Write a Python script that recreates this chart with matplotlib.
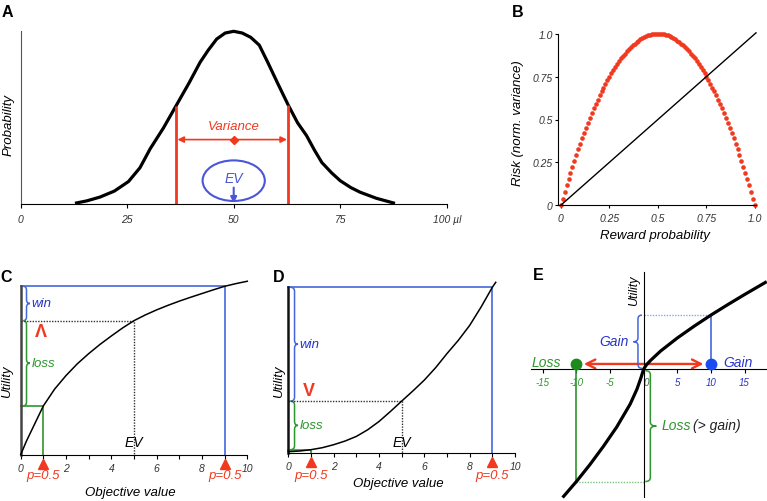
import numpy as np
import matplotlib.pyplot as plt
from matplotlib.patches import Ellipse, FancyArrowPatch, PathPatch
from matplotlib.path import Path
import matplotlib.transforms as mtrans

W, H = 767, 502

# --- panel A: reward distribution ---
dist_x = [13.1, 15.5, 18.6, 22, 25.3, 28, 30.4, 33.5, 36.5, 39.5, 42.1, 44, 46, 48, 50,
          52, 54, 56, 58, 60.3, 62.8, 65, 67.1, 69, 70.7, 73, 75, 77.5, 79.7, 83.5, 87.5]
dist_y = [0.006, 0.018, 0.04, 0.075, 0.13, 0.21, 0.32, 0.44, 0.57, 0.70, 0.82, 0.89, 0.955, 0.99, 1.0,
          0.99, 0.965, 0.92, 0.82, 0.70, 0.573, 0.47, 0.396, 0.31, 0.24, 0.18, 0.135, 0.095, 0.068, 0.033, 0.006]
a_ticks = [0, 25, 50, 75, 100]
a_ticklabels = ['0', '25', '50', '75', '100 µl']
var_lo, var_hi = 36.5, 62.8
ev_a = 50

# --- panel B: risk vs reward probability ---
reward_prob = [0.00, 0.01, 0.02, 0.03, 0.04, 0.05, 0.06, 0.07, 0.08, 0.09,
               0.10, 0.11, 0.12, 0.13, 0.14, 0.15, 0.16, 0.17, 0.18, 0.19,
               0.20, 0.21, 0.22, 0.23, 0.24, 0.25, 0.26, 0.27, 0.28, 0.29,
               0.30, 0.31, 0.32, 0.33, 0.34, 0.35, 0.36, 0.37, 0.38, 0.39,
               0.40, 0.41, 0.42, 0.43, 0.44, 0.45, 0.46, 0.47, 0.48, 0.49,
               0.50,
               0.51, 0.52, 0.53, 0.54, 0.55, 0.56, 0.57, 0.58, 0.59, 0.60,
               0.61, 0.62, 0.63, 0.64, 0.65, 0.66, 0.67, 0.68, 0.69, 0.70,
               0.71, 0.72, 0.73, 0.74, 0.75, 0.76, 0.77, 0.78, 0.79, 0.80,
               0.81, 0.82, 0.83, 0.84, 0.85, 0.86, 0.87, 0.88, 0.89, 0.90,
               0.91, 0.92, 0.93, 0.94, 0.95, 0.96, 0.97, 0.98, 0.99, 1.00]
risk = [0, .0396, .0784, .1164, .1536, .19, .2256, .2604, .2944, .3276,
        .36, .3916, .4224, .4524, .4816, .51, .5376, .5644, .5904, .6156,
        .64, .6636, .6864, .7084, .7296, .75, .7696, .7884, .8064, .8236,
        .84, .8556, .8704, .8844, .8976, .91, .9216, .9324, .9424, .9516,
        .96, .9676, .9744, .9804, .9856, .99, .9936, .9964, .9984, .9996,
        1.0,
        .9996, .9984, .9964, .9936, .99, .9856, .9804, .9744, .9676, .96,
        .9516, .9424, .9324, .9216, .91, .8976, .8844, .8704, .8556, .84,
        .8236, .8064, .7884, .7696, .75, .7296, .7084, .6864, .6636, .64,
        .6156, .5904, .5644, .5376, .51, .4816, .4524, .4224, .3916, .36,
        .3276, .2944, .2604, .2256, .19, .1536, .1164, .0784, .0396, 0]
diag_x = [0, 1.005]
diag_y = [0, 1.005]
b_ticks = [0, 0.25, 0.5, 0.75, 1.0]
b_ticklabels = ['0', '0.25', '0.5', '0.75', '1.0']

# --- panels C / D: utility functions ---
obj_c = [0, 0.25, 0.5, 1, 1.5, 2, 2.5, 3, 3.5, 4, 4.5, 5, 5.5, 6, 6.5, 7, 7.5, 8, 8.5, 9, 9.5, 10]
util_c = [0, 0.08, 0.15, 0.29, 0.39, 0.47, 0.54, 0.60, 0.655, 0.705, 0.753, 0.796, 0.83, 0.86,
          0.887, 0.912, 0.935, 0.957, 0.979, 1.0, 1.016, 1.03]
obj_d = [0, 0.5, 1, 1.5, 2, 2.5, 3, 3.5, 4, 4.5, 5, 5.5, 6, 6.5, 7, 7.5, 8, 8.5, 9, 9.15]
util_d = [0.008, 0.012, 0.02, 0.032, 0.05, 0.072, 0.10, 0.14, 0.19, 0.25, 0.313, 0.375, 0.44,
          0.515, 0.60, 0.68, 0.77, 0.88, 1.0, 1.03]
outcomes = [1, 9]
ev_cd = 5
p_out = 0.5

# --- panel E: prospect-theory value function ---
gl_x = [-11.9, -10, -8, -6, -4, -2, -1, -0.4, 0, 0.4, 1, 2.5, 5, 7.5, 10, 12.5, 15, 18.1]
gl_u = [-18.9, -16.7, -14.2, -11.5, -8.6, -5.2, -3.0, -1.3, 0, 0.6, 1.25, 2.65, 4.6, 6.35, 8.0, 9.55, 11.05, 12.85]
e_ticks = [-15, -10, -5, 0, 5, 10, 15]
e_loss, e_gain = -10, 10

red = '#f0391f'
blue = '#4466dd'
blue_t = '#2633cc'
green = '#2e962e'
gray = '#333333'

plt.rcParams['font.family'] = ['Liberation Sans', 'DejaVu Sans']
plt.rcParams['font.style'] = 'italic'

fig = plt.figure(figsize=(W / 100, H / 100), dpi=100)


def add_ax(l, t, r, b):
    return fig.add_axes([l / W, 1 - b / H, (r - l) / W, (b - t) / H])


def ftxt(x, y, s, **kw):
    fig.text(x / W, 1 - y / H, s, **kw)


def brace(ax, x, y0, y1, w_px, tip_px, r_px, color, side=1, lw=1.1):
    p0 = ax.transData.transform((0, 0))
    p1 = ax.transData.transform((1, 1))
    sx, sy = p1[0] - p0[0], p1[1] - p0[1]
    dx = side * w_px / sx
    dt = side * tip_px / sx
    r = r_px / sy
    top, bot = max(y0, y1), min(y0, y1)
    ym = (top + bot) / 2
    verts = [(x, top), (x + dx, top), (x + dx, top - r), (x + dx, ym + r),
             (x + dx, ym), (x + dx + dt, ym), (x + dx, ym), (x + dx, ym - r),
             (x + dx, bot + r), (x + dx, bot), (x, bot)]
    codes = [Path.MOVETO, Path.CURVE3, Path.CURVE3, Path.LINETO,
             Path.CURVE3, Path.CURVE3, Path.CURVE3, Path.CURVE3,
             Path.LINETO, Path.CURVE3, Path.CURVE3]
    ax.add_patch(PathPatch(Path(verts, codes), fill=False, ec=color, lw=lw, clip_on=False))


def clean(ax):
    for s in ['top', 'right']:
        ax.spines[s].set_visible(False)


# ---------------- A ----------------
axA = add_ax(20.7, 32.3, 446.7, 205)
axA.set_xlim(0, 100)
axA.set_ylim(0, 1)
clean(axA)
axA.spines['left'].set_color('#555555')
axA.plot(dist_x, dist_y, color='black', lw=2.3, clip_on=False)
axA.set_xticks(a_ticks)
axA.set_xticklabels(a_ticklabels)
axA.set_yticks([])
axA.tick_params(axis='x', length=3, width=0.8, pad=4, labelsize=7.5, labelcolor=gray)
h_lo = dist_y[dist_x.index(var_lo)]
h_hi = dist_y[dist_x.index(var_hi)]
axA.vlines([var_lo, var_hi], 0, [h_lo, h_hi], color=red, lw=2.0)
axA.annotate('', xy=(var_hi - 0.3, 0.373), xytext=(var_lo + 0.3, 0.373),
             arrowprops=dict(arrowstyle='<|-|>', color=red, lw=1.2, mutation_scale=9,
                             shrinkA=0, shrinkB=0))
axA.plot([ev_a], [0.373], marker='D', ms=4, color=red)
axA.text(ev_a, 0.45, 'Variance', color=red, fontsize=9.5, ha='center', va='center')
axA.add_patch(Ellipse((ev_a, 0.135), 14.6, 0.235, fill=False, ec='#4a55d8', lw=1.5))
axA.text(ev_a, 0.15, 'EV', color='#4a55d8', fontsize=10, ha='center', va='center')
axA.annotate('', xy=(ev_a, 0.004), xytext=(ev_a, 0.095),
             arrowprops=dict(arrowstyle='-|>', color='#4a55d8', lw=1.5, mutation_scale=9,
                             shrinkA=0, shrinkB=0))
ftxt(8.5, 125, 'Probability', rotation=90, ha='center', va='center', fontsize=9.5)
ftxt(1.7, 17.3, 'A', fontsize=11.5, fontweight='bold', style='normal', va='baseline')

# ---------------- B ----------------
axB = add_ax(558.3, 34.7, 756, 206.3)
axB.set_xlim(-0.0125, 1.005)
axB.set_ylim(0, 1)
clean(axB)
axB.plot(reward_prob, risk, 'o', color=red, ms=3.3, mec='none', clip_on=False)
axB.plot(diag_x, diag_y, color='black', lw=1.0, clip_on=False)
axB.set_xticks(b_ticks)
axB.set_xticklabels(b_ticklabels)
axB.set_yticks(b_ticks)
axB.set_yticklabels(b_ticklabels)
axB.tick_params(length=2.5, width=0.8, labelsize=7.5, labelcolor=gray)
axB.tick_params(axis='y', pad=1.5)
axB.tick_params(axis='x', pad=3)
ftxt(517.5, 123, 'Risk (norm. variance)', rotation=90, ha='center', va='center', fontsize=9.5)
ftxt(655, 236, 'Reward probability', ha='center', va='center', fontsize=9.5)
ftxt(511.7, 16.7, 'B', fontsize=11.5, fontweight='bold', style='normal', va='baseline')


# ---------------- C & D ----------------
def util_panel(ax, xs, us, spine_col, brace_x, w_px, tip_px, mark, mark_y, ev_y, py_tri, py_p):
    ax.set_xlim(0, 10)
    ax.set_ylim(0, 1)
    clean(ax)
    ax.spines['left'].set_linewidth(1.8)
    ax.spines['left'].set_color(spine_col)
    ax.plot(xs, us, color='black', lw=1.1, clip_on=False, zorder=4)
    u_lo = us[xs.index(outcomes[0])]
    u_hi = us[xs.index(outcomes[1])]
    u_ev = us[xs.index(ev_cd)]
    ax.plot([0, outcomes[1], outcomes[1]], [u_hi, u_hi, 0], color=blue, lw=1.2, clip_on=False)
    ax.plot([0, outcomes[0], outcomes[0]], [u_lo, u_lo, 0], color=green, lw=1.2, clip_on=False)
    ax.plot([0, ev_cd, ev_cd], [u_ev, u_ev, 0], color=gray, lw=1.0, ls=(0, (1, 1)))
    brace(ax, brace_x, u_ev, u_hi, w_px, tip_px, 4, blue)
    brace(ax, brace_x, u_lo, u_ev, w_px, tip_px, 4, green)
    gap = (w_px + tip_px + 1.5) / 22.66
    ax.text(brace_x + gap, (u_ev + u_hi) / 2, 'win', color=blue_t, fontsize=9.5, va='center')
    ax.text(brace_x + gap, (u_lo + u_ev) / 2, 'loss', color=green, fontsize=9.5, va='center')
    ax.text(0.9, mark_y, mark, color=red, fontsize=13, fontweight='bold', style='normal',
            ha='center', va='center')
    ax.text(ev_cd, ev_y, 'EV', color='black', fontsize=10, ha='center', va='center')
    ax.set_xticks([0, 2, 4, 6, 8, 10])
    ax.set_xticks([1, 3, 5, 7, 9], minor=True)
    ax.set_yticks([])
    ax.tick_params(axis='x', which='both', length=3, width=0.8, pad=3, labelsize=7.5, labelcolor=gray)
    tr = mtrans.blended_transform_factory(ax.transData, ax.transAxes)
    ax.plot(outcomes, [py_tri, py_tri], ls='none', marker='^', ms=6.5, color=red,
            transform=tr, clip_on=False)
    for o in outcomes:
        ax.text(o, py_p, f'p={p_out}', color=red, fontsize=9.5, ha='center', va='center',
                transform=tr)


axC = add_ax(20.7, 287.3, 247.3, 455.7)
util_panel(axC, obj_c, util_c, '#444444', 0.115, 3.2, 3.5, 'Λ', 0.73, 0.077, -0.055, -0.119)
ftxt(7.5, 381.7, 'Utility', rotation=90, ha='center', va='center', fontsize=9.5)
ftxt(130, 493, 'Objective value', ha='center', va='center', fontsize=9.5)
ftxt(0, 281.7, 'C', fontsize=11.5, fontweight='bold', style='normal', va='baseline')

axD = add_ax(288.3, 288.3, 515, 454)
util_panel(axD, obj_d, util_d, '#111111', 0.09, 4.2, 3.5, 'V', 0.376, 0.068, -0.057, -0.131)
ftxt(279.2, 381.7, 'Utility', rotation=90, ha='center', va='center', fontsize=9.5)
ftxt(398.3, 484, 'Objective value', ha='center', va='center', fontsize=9.5)
ftxt(273.3, 281.7, 'D', fontsize=11.5, fontweight='bold', style='normal', va='baseline')

# ---------------- E ----------------
axE = add_ax(530.7, 273, 766.7, 498)
axE.set_xlim(-16.8, 18.3)
axE.set_ylim(-19.0, 14.4)
clean(axE)
axE.spines['left'].set_position(('data', 0))
axE.spines['bottom'].set_position(('data', 0))
axE.set_yticks([])
axE.set_xticks(e_ticks)
axE.set_xticklabels([str(t) for t in e_ticks])
axE.tick_params(axis='x', length=3, width=0.8, pad=3, labelsize=7)
for t, lbl in zip(e_ticks, axE.get_xticklabels()):
    lbl.set_color(green if t < 0 else (blue_t if t > 0 else '#2e6b2e'))
    if t == 0:
        lbl.set_horizontalalignment('left')
axE.plot(gl_x, gl_u, color='black', lw=2.3, clip_on=False, zorder=4)
u_gain = gl_u[gl_x.index(e_gain)]
u_loss = gl_u[gl_x.index(e_loss)]
dot_y = 0.75
axE.plot([e_gain, e_gain], [dot_y, u_gain], color=blue, lw=1.2)
axE.plot([0, e_gain], [u_gain, u_gain], color='#8fa6ee', lw=1.0, ls=(0, (1, 1)))
axE.plot([e_loss, e_loss], [dot_y, u_loss], color=green, lw=1.2)
axE.plot([e_loss, 0], [u_loss, u_loss], color='#7cc67c', lw=1.0, ls=(0, (1, 1)))
axE.add_patch(FancyArrowPatch((e_loss + 1.1, dot_y), (e_gain - 1.1, dot_y), arrowstyle='<->',
                              mutation_scale=16, color=red, lw=1.7, shrinkA=0, shrinkB=0))
axE.plot([e_loss], [dot_y], 'o', color='#1d8a1d', ms=7.5, zorder=5)
axE.plot([e_gain], [dot_y], 'o', color='#1a4cf0', ms=7.5, zorder=5)
brace(axE, -0.25, 0.1, u_gain, 4.0, 4.5, 4, blue, side=-1)
brace(axE, 0.25, -0.25, u_loss, 5.0, 6.0, 4, green, side=1)
axE.text(-12.3, 1.1, 'Loss', color=green, fontsize=10, ha='right', va='center')
axE.text(11.9, 1.1, 'Gain', color=blue_t, fontsize=10, ha='left', va='center')
axE.text(-2.3, u_gain / 2 + 0.2, 'Gain', color=blue_t, fontsize=10, ha='right', va='center')
axE.text(2.6, u_loss / 2, 'Loss', color=green, fontsize=10, ha='left', va='center')
axE.text(7.4, u_loss / 2, '(> gain)', color='#222222', fontsize=10, ha='left', va='center')
ftxt(634, 291, 'Utility', rotation=90, ha='center', va='center', fontsize=9)
ftxt(533.3, 280, 'E', fontsize=11.5, fontweight='bold', style='normal', va='baseline')

fig.savefig('out.png', dpi=100)
